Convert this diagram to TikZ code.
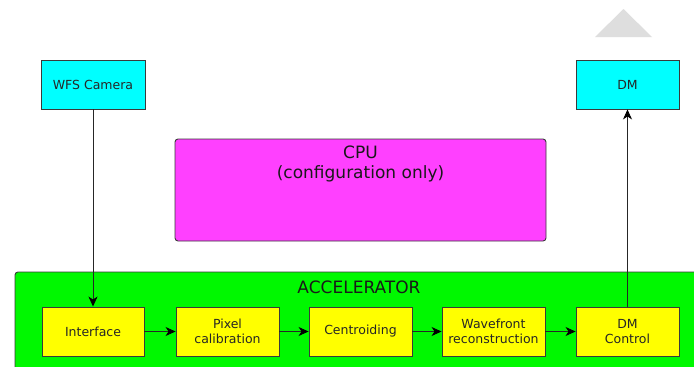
\documentclass[tikz,border=0pt]{standalone}
\usepackage{fontspec}
\setmainfont{DejaVu Sans}
\usetikzlibrary{arrows.meta}
\definecolor{boxcyan}{HTML}{00FFFF}
\definecolor{boxmagenta}{HTML}{FF40FF}
\definecolor{boxgreen}{HTML}{00F800}
\definecolor{boxyellow}{HTML}{FFFF00}
\definecolor{edgegray}{HTML}{3A3A3A}
\definecolor{tabgray}{HTML}{DEDEDE}
\tikzset{
  unitbox/.style={draw=edgegray, line width=0.9pt, minimum width=103pt, minimum height=49pt,
    inner sep=0pt, align=center, font=\fontsize{12.5}{14.5}\selectfont, text=black!85},
  devbox/.style={unitbox, fill=boxcyan},
  stagebox/.style={unitbox, fill=boxyellow},
  flow/.style={draw=black!85, line width=0.9pt,
    -{Stealth[length=10pt, width=9pt, inset=3pt, color=black]}},
  bigtext/.style={font=\fontsize{17}{20}\selectfont, align=center, inner sep=0pt, text=black!90},
}
\begin{document}
\begin{tikzpicture}[x=1pt, y=-1pt]
\useasboundingbox (0,0) rectangle (694,367);
\clip (0,0) rectangle (694,367);
\fill[white] (0,0) rectangle (694,367);

% light grey tab in the top right corner
\fill[tabgray] (595,37) -- (623.5,9) -- (652,37) -- cycle;

% external devices
\node[devbox, minimum width=104pt] (cam) at (93,84.5) {WFS Camera};
\node[devbox] (dm) at (627.5,84.5) {DM};

% CPU block
\node[draw=edgegray, line width=0.9pt, fill=boxmagenta, rounded corners=3pt,
      minimum width=371pt, minimum height=102pt, inner sep=0pt] (cpu) at (360.5,190) {};
\node[bigtext, anchor=north] (cputxt) at (360.5,146) {CPU\\(configuration only)};

% accelerator block, running past the right and bottom edges
\draw[edgegray, line width=0.9pt, fill=boxgreen, rounded corners=3pt] (15,272) rectangle (720,400);
\node[bigtext] (acctxt) at (359,287) {ACCELERATOR};

% processing stages
\node[stagebox, minimum width=102pt] (intf) at (93,331.5) {Interface};
\node[stagebox] (pix) at (227.5,331.5) {Pixel\\calibration};
\node[stagebox] (cent) at (360.5,331.5) {Centroiding};
\node[stagebox] (wav) at (493.5,331.5) {Wavefront\\reconstruction};
\node[stagebox] (dmc) at (627.5,331.5) {DM\\Control};

% data flow
\draw[flow] (cam) -- (intf);
\draw[flow] (intf) -- (pix);
\draw[flow] (pix) -- (cent);
\draw[flow] (cent) -- (wav);
\draw[flow] (wav) -- (dmc);
\draw[flow] (dmc) -- (dm);
\end{tikzpicture}
\end{document}
